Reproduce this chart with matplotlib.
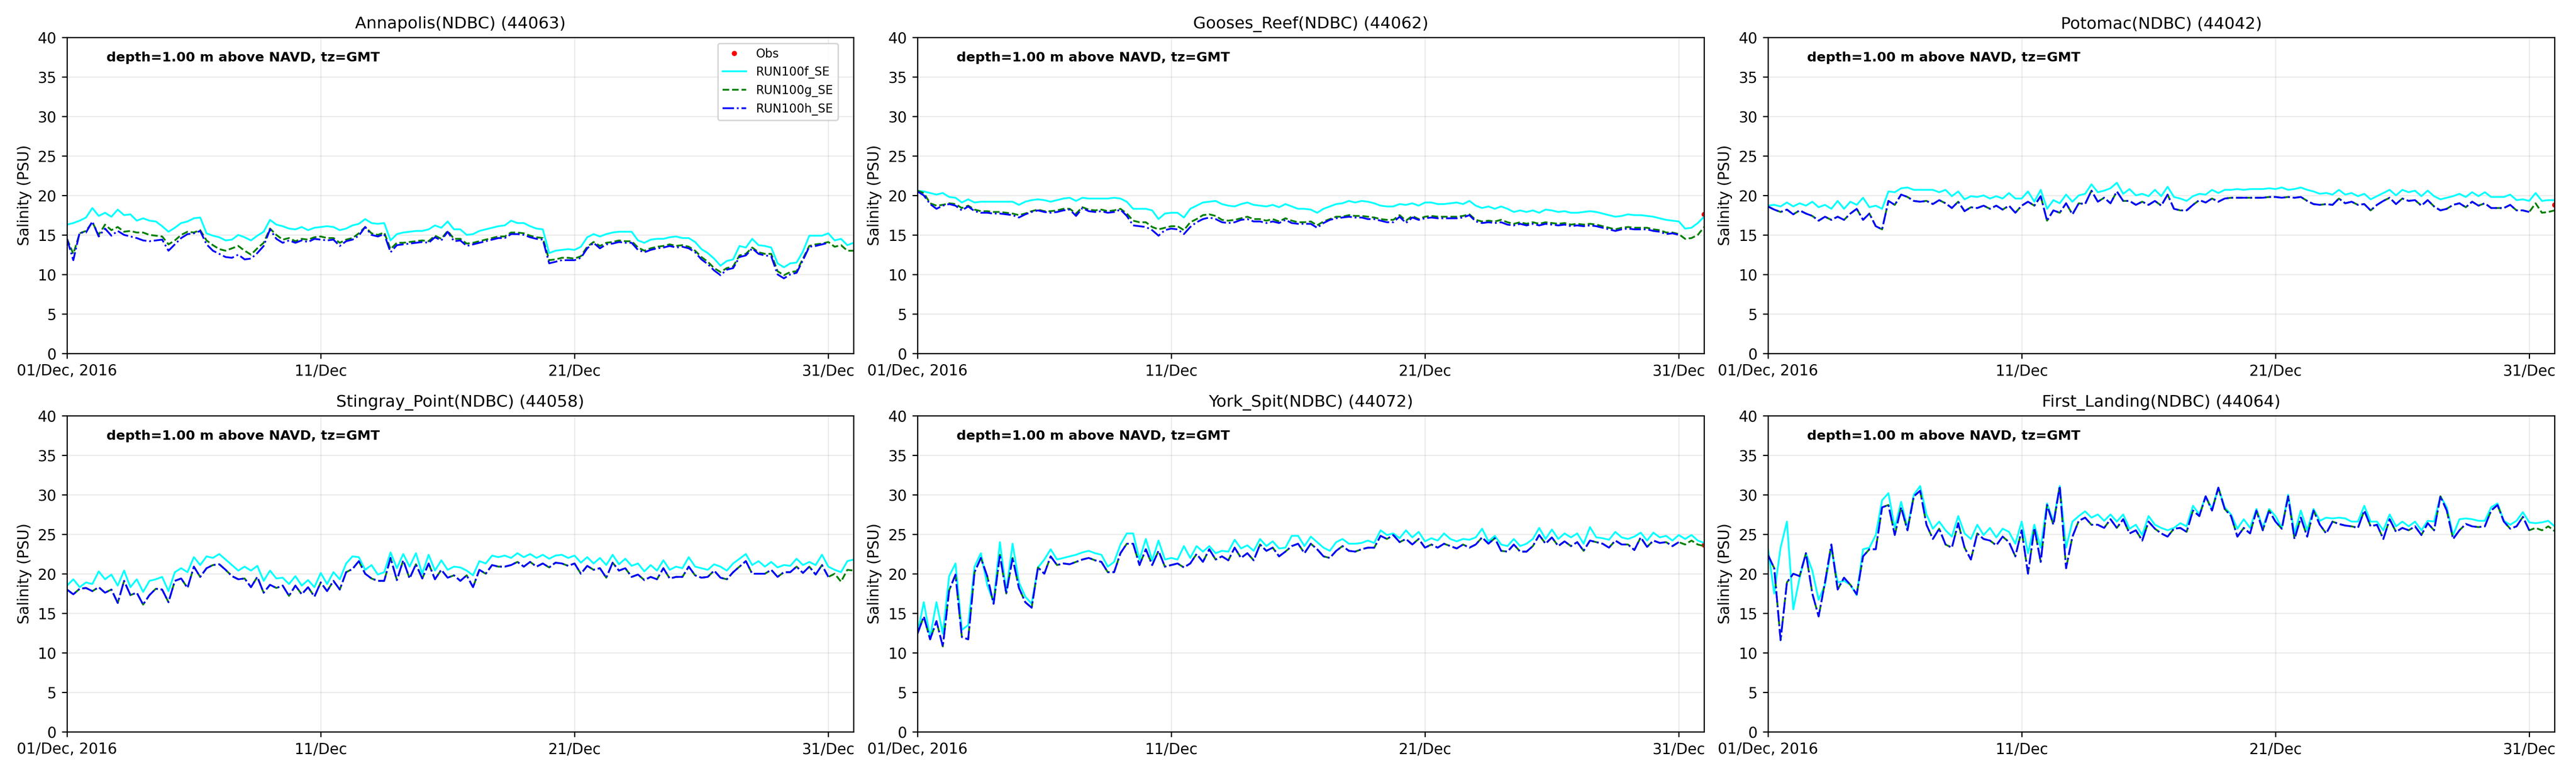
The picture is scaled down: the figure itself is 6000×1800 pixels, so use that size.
# Salinity time series at six NDBC stations, Dec 2016 (three model runs)
import numpy as np
import matplotlib.pyplot as plt
import matplotlib.dates as mdates

# 6-hourly sampling times
times = np.arange(np.datetime64("2016-12-01T00"), np.datetime64("2017-01-01T01"),
                  np.timedelta64(6, "h"))

titles = ["Annapolis(NDBC) (44063)", "Gooses_Reef(NDBC) (44062)",
          "Potomac(NDBC) (44042)", "Stingray_Point(NDBC) (44058)",
          "York_Spit(NDBC) (44072)", "First_Landing(NDBC) (44064)"]

tick_dates = ["2016-12-01", "2016-12-11", "2016-12-21", "2016-12-31"]
tick_labels = ["01/Dec, 2016", "11/Dec", "21/Dec", "31/Dec"]
run_labels = ["RUN100f_SE", "RUN100g_SE", "RUN100h_SE"]

# ---- Annapolis
annap_f = [16.3, 16.5, 16.8, 17.2, 18.4, 17.4, 17.8, 17.3,
           18.2, 17.5, 17.6, 16.8, 17.1, 16.8, 16.7, 16.1,
           15.4, 15.9, 16.5, 16.7, 17.1, 17.2, 15.2, 14.9,
           14.7, 14.3, 14.4, 15.0, 14.7, 14.3, 14.9, 15.4,
           16.9, 16.3, 16.1, 15.8, 15.7, 16.0, 15.6, 15.9,
           16.0, 16.1, 16.0, 15.6, 15.8, 16.2, 16.4, 17.0,
           16.5, 16.4, 16.5, 14.3, 15.1, 15.3, 15.4, 15.5,
           15.5, 15.7, 16.2, 15.9, 16.7, 15.7, 15.7, 15.0,
           15.1, 15.5, 15.7, 15.9, 16.1, 16.2, 16.8, 16.5,
           16.5, 16.1, 15.8, 15.7, 12.7, 13.0, 13.1, 13.2,
           13.1, 13.5, 14.7, 15.1, 14.8, 15.1, 15.3, 15.4,
           15.4, 15.4, 14.3, 14.0, 14.4, 14.5, 14.5, 14.7,
           14.8, 14.6, 14.6, 14.1, 13.2, 12.7, 12.0, 11.1,
           11.7, 11.9, 13.6, 13.4, 14.5, 13.7, 13.6, 13.4,
           11.4, 10.9, 11.4, 11.5, 12.9, 14.9, 14.9, 14.9,
           15.2, 14.3, 14.5, 13.7, 14.0]
annap_g = [14.5, 12.6, 15.2, 15.5, 16.6, 15.0, 16.3, 15.6,
           16.0, 15.4, 15.5, 15.3, 15.3, 15.0, 14.9, 14.8,
           13.8, 14.3, 15.0, 15.4, 15.3, 15.6, 14.3, 13.7,
           13.2, 13.0, 13.3, 13.6, 13.0, 12.5, 13.3, 14.0,
           15.8, 15.0, 14.4, 14.6, 14.2, 14.5, 14.4, 14.7,
           14.8, 14.6, 14.6, 14.0, 14.4, 14.6, 15.2, 16.0,
           15.2, 15.0, 15.3, 13.2, 14.0, 14.0, 14.1, 14.2,
           14.3, 14.2, 14.9, 14.5, 15.5, 14.5, 14.5, 13.9,
           14.0, 14.2, 14.4, 14.6, 14.8, 14.8, 15.3, 15.3,
           15.2, 14.9, 14.7, 14.6, 11.8, 11.9, 12.1, 12.1,
           12.0, 12.3, 13.5, 14.1, 13.6, 14.0, 14.1, 14.3,
           14.2, 14.2, 13.4, 13.0, 13.3, 13.5, 13.6, 13.8,
           13.6, 13.7, 13.5, 13.0, 12.2, 11.6, 10.8, 10.3,
           10.8, 11.0, 12.4, 12.6, 13.4, 12.8, 12.6, 12.6,
           10.4, 9.9, 10.3, 10.4, 12.0, 13.6, 13.8, 13.9,
           14.1, 13.5, 13.7, 13.0, 13.0]
annap_h = [14.5, 11.8, 15.3, 15.3, 16.7, 14.8, 15.8, 14.9,
           15.5, 15.0, 14.8, 14.6, 14.3, 14.2, 14.3, 14.4,
           13.0, 13.8, 14.6, 15.1, 15.2, 15.5, 13.8, 13.0,
           12.6, 12.2, 12.1, 12.5, 11.9, 12.0, 12.7, 13.6,
           15.7, 14.5, 14.0, 14.3, 14.0, 14.3, 14.1, 14.5,
           14.4, 14.3, 14.4, 13.6, 14.2, 14.4, 14.9, 16.0,
           15.0, 14.8, 15.1, 12.8, 13.7, 13.8, 13.9, 14.0,
           14.1, 14.0, 14.7, 14.3, 15.4, 14.2, 14.3, 13.6,
           13.8, 14.0, 14.2, 14.4, 14.6, 14.6, 15.1, 15.1,
           15.0, 14.7, 14.5, 14.4, 11.4, 11.6, 11.8, 11.8,
           11.8, 12.1, 13.3, 14.0, 13.3, 13.8, 13.9, 14.1,
           14.0, 14.0, 13.1, 12.8, 13.1, 13.3, 13.4, 13.6,
           13.4, 13.5, 13.3, 12.8, 11.9, 11.3, 10.5, 9.9,
           10.6, 10.8, 12.2, 12.4, 13.3, 12.6, 12.4, 12.3,
           10.0, 9.5, 10.0, 10.2, 11.8, 13.5, 13.6, 13.8,
           14.0]

# ---- Gooses Reef
goose_f = [20.6, 20.5, 20.3, 20.1, 20.3, 19.8, 19.7, 19.1,
           19.5, 19.1, 19.2, 19.2, 19.2, 19.2, 19.2, 19.2,
           18.8, 19.2, 19.4, 19.5, 19.4, 19.2, 19.4, 19.6,
           19.7, 19.3, 19.7, 19.6, 19.6, 19.6, 19.6, 19.7,
           19.6, 19.2, 18.3, 18.3, 18.3, 18.1, 17.0, 17.7,
           17.8, 17.8, 17.2, 18.3, 18.7, 19.1, 19.2, 19.3,
           18.9, 18.7, 18.6, 18.9, 19.1, 18.8, 18.7, 18.6,
           18.8, 18.5, 18.9, 18.6, 18.3, 18.3, 18.2, 17.8,
           18.3, 18.6, 18.9, 19.0, 19.3, 19.1, 19.3, 19.2,
           19.0, 18.7, 18.6, 18.6, 18.9, 18.8, 19.0, 18.7,
           19.1, 19.1, 18.9, 18.9, 19.0, 19.1, 18.9, 19.3,
           18.7, 18.4, 18.6, 18.3, 18.6, 18.3, 17.9, 18.1,
           17.9, 18.1, 17.8, 18.2, 18.1, 17.9, 18.0, 17.8,
           17.8, 17.9, 18.0, 17.9, 17.7, 17.5, 17.3, 17.4,
           17.6, 17.5, 17.5, 17.4, 17.3, 17.1, 16.9, 16.8,
           16.7, 15.8, 15.9, 16.5, 17.3]
goose_g = [20.6, 20.3, 19.0, 18.7, 18.8, 19.0, 18.9, 18.4,
           18.7, 18.2, 18.0, 18.0, 17.9, 17.9, 17.8, 17.7,
           17.5, 17.7, 18.0, 18.2, 18.0, 18.0, 18.1, 18.3,
           18.3, 17.7, 18.5, 18.2, 18.1, 18.2, 18.0, 18.1,
           18.3, 17.7, 16.8, 16.6, 16.6, 16.0, 15.7, 15.9,
           16.1, 16.1, 15.6, 16.6, 17.0, 17.5, 17.6, 17.4,
           16.9, 16.8, 16.9, 17.1, 17.3, 17.0, 17.0, 16.8,
           17.0, 16.7, 17.1, 16.8, 16.6, 16.6, 16.7, 16.2,
           16.7, 17.0, 17.3, 17.3, 17.5, 17.4, 17.4, 17.3,
           17.2, 17.0, 16.9, 16.9, 17.5, 16.8, 17.4, 17.0,
           17.3, 17.4, 17.3, 17.3, 17.3, 17.3, 17.4, 17.6,
           16.9, 16.7, 16.8, 16.7, 16.9, 16.6, 16.4, 16.6,
           16.4, 16.6, 16.4, 16.6, 16.5, 16.4, 16.5, 16.3,
           16.4, 16.3, 16.4, 16.3, 16.1, 15.9, 15.7, 15.9,
           16.0, 15.9, 15.9, 15.9, 15.7, 15.6, 15.3, 15.3,
           15.1, 14.5, 14.6, 15.0, 16.0]
goose_h = [20.5, 20.0, 18.9, 18.3, 18.7, 18.9, 18.7, 18.1,
           18.6, 18.0, 17.8, 17.8, 17.7, 17.7, 17.6, 17.5,
           17.2, 17.6, 17.9, 18.1, 17.9, 17.8, 17.9, 18.1,
           18.2, 17.4, 18.4, 18.0, 17.9, 18.0, 17.8, 17.9,
           18.2, 17.4, 16.2, 16.1, 16.0, 15.6, 14.9, 15.6,
           15.8, 15.7, 15.1, 16.0, 16.6, 17.0, 17.2, 17.0,
           16.6, 16.5, 16.6, 16.9, 17.0, 16.7, 16.7, 16.5,
           16.7, 16.5, 16.9, 16.5, 16.4, 16.4, 16.4, 15.9,
           16.5, 16.9, 17.1, 17.2, 17.3, 17.2, 17.2, 17.0,
           17.0, 16.8, 16.6, 16.6, 17.3, 16.5, 17.2, 16.9,
           17.1, 17.2, 17.1, 17.1, 17.1, 17.1, 17.2, 17.5,
           16.7, 16.5, 16.6, 16.5, 16.6, 16.3, 16.2, 16.4,
           16.2, 16.4, 16.2, 16.4, 16.3, 16.2, 16.3, 16.1,
           16.2, 16.1, 16.2, 16.1, 15.9, 15.7, 15.5, 15.7,
           15.8, 15.7, 15.7, 15.7, 15.5, 15.4, 15.1, 15.2,
           15.0]

# ---- Potomac
potom_f = [18.7, 18.8, 18.6, 19.1, 18.6, 19.0, 18.7, 19.2,
           18.5, 18.8, 18.3, 19.3, 18.3, 19.2, 18.8, 19.7,
           18.5, 18.7, 18.3, 20.5, 20.4, 20.9, 21.0, 20.7,
           20.7, 20.7, 20.7, 20.4, 20.7, 19.9, 20.5, 19.5,
           19.9, 19.8, 20.0, 19.6, 19.9, 19.6, 20.3, 19.6,
           19.6, 20.5, 19.2, 20.7, 18.3, 19.4, 19.0, 20.1,
           19.2, 20.0, 20.2, 21.4, 20.4, 20.6, 20.9, 21.6,
           20.2, 20.8, 20.0, 20.2, 19.9, 20.7, 19.9, 21.1,
           19.8, 19.6, 19.3, 19.9, 20.2, 20.1, 20.7, 20.3,
           20.7, 20.7, 20.8, 20.7, 20.8, 20.8, 20.8, 20.9,
           20.8, 21.0, 20.7, 20.8, 21.0, 20.7, 20.5, 20.2,
           20.3, 20.1, 20.7, 20.1, 20.3, 19.9, 20.2, 19.5,
           19.9, 20.3, 20.7, 20.0, 20.7, 20.4, 20.6, 19.9,
           20.6, 19.9, 19.5, 19.7, 19.9, 20.2, 19.8, 20.4,
           19.9, 20.4, 19.8, 19.8, 19.8, 20.1, 19.4, 19.5,
           19.3, 20.3, 19.3, 19.4, 19.4]
potom_g = [18.6, 18.2, 17.9, 18.2, 17.6, 18.1, 17.7, 17.4,
           16.8, 17.3, 16.9, 17.3, 16.9, 17.7, 18.3, 16.9,
           17.7, 16.1, 15.7, 19.3, 18.8, 20.1, 19.8, 19.3,
           19.2, 19.3, 18.9, 19.4, 19.0, 18.4, 19.2, 18.0,
           18.5, 18.4, 18.7, 18.3, 18.7, 18.2, 18.7, 17.8,
           18.7, 19.2, 18.7, 19.9, 16.8, 18.1, 17.8, 19.0,
           17.6, 19.0, 18.9, 20.6, 19.2, 19.7, 19.0, 20.5,
           19.3, 19.3, 18.8, 19.2, 18.8, 19.3, 18.7, 20.1,
           18.3, 18.1, 18.1, 18.8, 19.4, 19.1, 19.6, 19.2,
           19.6, 19.7, 19.7, 19.7, 19.7, 19.7, 19.7, 19.8,
           19.8, 19.7, 19.8, 19.7, 19.8, 19.3, 18.9, 18.8,
           18.9, 18.8, 19.6, 19.0, 19.2, 18.8, 18.9, 18.1,
           18.8, 19.3, 19.7, 18.9, 19.6, 19.3, 19.4, 18.7,
           19.4, 18.6, 18.1, 18.3, 18.8, 19.0, 18.5, 19.2,
           18.7, 19.0, 18.4, 18.4, 18.4, 18.8, 18.1, 18.1,
           17.9, 19.0, 17.8, 17.9, 18.1]
potom_h = potom_g[:121]  # lies on top of RUN100g, ends 31 Dec 00:00

# ---- Stingray Point
sting_f = [18.5, 19.3, 18.3, 18.9, 18.7, 20.3, 19.3, 19.9,
           18.5, 20.4, 18.3, 19.3, 17.7, 19.1, 19.3, 19.6,
           17.8, 20.2, 20.7, 20.2, 22.1, 21.1, 22.2, 22.0,
           22.5, 21.8, 21.1, 20.4, 20.9, 20.4, 21.0, 19.1,
           20.4, 19.4, 19.5, 18.7, 19.7, 18.5, 19.2, 18.3,
           20.1, 18.7, 20.2, 19.3, 21.3, 22.2, 22.1, 20.5,
           21.1, 19.9, 20.2, 22.7, 20.7, 22.5, 20.9, 22.6,
           20.0, 22.4, 20.4, 21.7, 20.5, 20.9, 20.8, 20.4,
           19.8, 21.6, 21.3, 22.3, 22.1, 22.3, 22.0, 22.6,
           22.1, 22.5, 22.0, 22.4, 21.9, 22.3, 22.4, 22.0,
           22.3, 21.4, 22.1, 21.3, 22.0, 21.1, 22.4, 21.2,
           21.9, 21.0, 21.3, 20.3, 21.1, 20.4, 21.7, 20.5,
           20.9, 20.7, 22.1, 20.9, 20.7, 20.5, 21.2, 20.9,
           20.4, 21.3, 21.9, 22.5, 21.1, 21.6, 20.9, 21.5,
           20.8, 21.1, 21.0, 21.9, 21.1, 21.5, 21.1, 22.4,
           20.9, 20.5, 20.2, 21.6, 21.8]
sting_g = [18.0, 17.4, 18.1, 18.2, 17.8, 18.3, 17.6, 18.0,
           16.3, 19.1, 17.3, 17.6, 16.1, 17.3, 18.1, 18.0,
           16.4, 19.1, 19.4, 18.2, 20.9, 19.6, 20.7, 21.1,
           21.2, 20.5, 19.7, 19.3, 19.4, 18.3, 19.6, 17.6,
           18.6, 18.2, 18.5, 17.2, 18.5, 17.4, 18.3, 17.1,
           18.9, 17.8, 19.1, 18.0, 20.2, 20.6, 21.6, 20.0,
           19.4, 19.1, 19.1, 22.0, 19.2, 21.7, 19.4, 21.2,
           19.4, 21.3, 19.3, 20.5, 19.5, 19.8, 19.1, 19.8,
           18.3, 20.5, 20.0, 21.1, 20.9, 20.9, 21.1, 21.5,
           20.9, 21.5, 20.9, 21.3, 20.8, 21.4, 21.3, 21.0,
           21.3, 20.0, 21.0, 20.5, 20.7, 19.5, 21.4, 20.4,
           20.7, 19.6, 19.9, 19.2, 19.6, 19.3, 20.7, 19.4,
           19.6, 19.6, 20.9, 19.8, 19.5, 19.6, 20.4, 19.5,
           19.3, 20.2, 20.9, 21.6, 20.0, 20.0, 20.0, 20.5,
           19.6, 20.2, 20.2, 20.9, 20.1, 20.9, 19.9, 21.1,
           19.6, 20.0, 19.0, 20.5, 20.4]
sting_h = sting_g[:121]

# ---- York Spit
york_f = [12.4, 16.4, 12.0, 16.4, 12.4, 19.7, 21.3, 12.9,
          13.5, 20.9, 22.6, 18.6, 16.4, 24.0, 17.7, 23.8,
          18.9, 17.1, 16.2, 20.8, 21.8, 23.1, 21.8, 22.0,
          22.2, 22.4, 22.7, 22.9, 22.6, 22.4, 20.9, 21.5,
          23.7, 25.1, 25.1, 21.8, 24.4, 21.7, 24.2, 21.8,
          22.0, 21.8, 23.5, 22.0, 23.5, 22.8, 23.5, 22.6,
          22.9, 22.8, 24.3, 23.2, 23.6, 22.9, 24.4, 23.5,
          24.1, 23.2, 23.3, 24.8, 24.8, 23.5, 24.7, 24.0,
          23.3, 22.9, 24.0, 24.4, 23.8, 23.8, 23.9, 24.2,
          23.9, 25.5, 24.9, 25.1, 24.5, 25.5, 24.6, 25.3,
          24.1, 24.5, 24.2, 25.1, 24.4, 24.1, 24.4, 24.3,
          24.6, 25.7, 24.1, 24.8, 23.7, 23.5, 24.4, 23.5,
          23.8, 24.4, 25.8, 24.4, 25.6, 24.4, 25.1, 24.6,
          25.1, 23.8, 25.9, 24.6, 24.5, 24.3, 25.3, 24.6,
          24.4, 24.7, 25.2, 24.2, 25.2, 24.6, 24.8, 24.2,
          24.9, 24.4, 24.9, 24.2, 23.9]
york_g = [12.4, 14.6, 11.7, 14.0, 10.8, 17.9, 19.9, 12.0,
          11.7, 20.2, 22.0, 19.7, 16.2, 22.4, 17.5, 22.0,
          18.2, 16.4, 15.7, 20.8, 20.0, 22.2, 21.1, 21.3,
          21.2, 21.5, 21.8, 22.0, 21.7, 21.5, 20.2, 20.2,
          22.6, 23.8, 23.8, 21.1, 23.1, 21.1, 22.9, 20.9,
          21.1, 21.3, 20.8, 21.3, 22.5, 21.5, 23.1, 21.8,
          22.2, 21.7, 23.3, 22.0, 22.6, 21.7, 23.7, 22.9,
          23.3, 22.2, 22.8, 23.5, 23.8, 22.6, 23.8, 23.1,
          22.2, 22.0, 22.9, 23.5, 22.9, 22.8, 23.1, 23.3,
          23.3, 24.8, 24.4, 24.9, 24.0, 24.4, 23.7, 24.4,
          23.3, 23.7, 23.3, 23.8, 23.5, 23.2, 23.7, 23.3,
          23.7, 24.6, 23.8, 24.5, 22.9, 22.8, 23.7, 22.8,
          22.8, 23.5, 24.9, 23.8, 24.6, 23.5, 24.1, 23.5,
          24.0, 22.9, 24.2, 24.0, 23.8, 23.3, 24.2, 23.7,
          23.7, 23.0, 24.6, 23.4, 24.2, 23.9, 24.0, 23.5,
          24.0, 23.7, 24.2, 23.7, 23.5]
york_h = york_g[:121]

# ---- First Landing
first_f = [23.3, 17.5, 23.3, 26.6, 15.5, 19.5, 22.6, 20.4,
           16.7, 18.6, 23.3, 18.9, 19.1, 18.6, 17.3, 23.1,
           23.3, 24.9, 29.3, 30.2, 25.8, 29.1, 25.8, 30.0,
           31.1, 27.5, 25.7, 26.6, 25.5, 24.7, 27.3, 25.1,
           24.4, 26.2, 24.9, 25.8, 24.6, 25.7, 25.3, 23.8,
           26.6, 22.6, 26.2, 23.3, 28.9, 26.6, 31.1, 23.3,
           26.6, 27.3, 27.9, 27.1, 27.5, 26.7, 27.5, 26.6,
           27.5, 25.7, 26.2, 24.9, 27.3, 26.2, 25.8, 25.5,
           25.8, 26.4, 26.0, 28.6, 27.5, 29.8, 28.2, 30.9,
           28.4, 27.5, 25.7, 26.9, 25.8, 28.2, 25.8, 28.2,
           27.3, 25.8, 30.0, 25.1, 28.0, 25.5, 28.2, 26.7,
           27.1, 27.0, 27.1, 27.0, 26.6, 26.6, 28.6, 26.6,
           26.6, 25.5, 27.5, 26.0, 26.6, 26.0, 26.6, 25.5,
           26.7, 26.6, 29.8, 28.4, 24.9, 26.9, 27.0, 26.9,
           26.7, 26.7, 28.4, 28.9, 26.7, 26.2, 26.7, 27.8,
           26.5, 26.4, 26.5, 26.7, 26.0]
first_g = [22.4, 20.7, 11.6, 18.9, 20.0, 19.7, 22.6, 17.5,
           14.6, 18.9, 23.7, 18.0, 19.5, 18.6, 17.4, 22.2,
           23.1, 23.1, 28.4, 28.7, 24.9, 28.4, 25.5, 29.8,
           30.5, 26.2, 24.4, 25.7, 23.7, 23.3, 26.4, 23.3,
           21.8, 25.1, 24.4, 24.2, 23.6, 24.7, 24.0, 22.2,
           25.5, 20.0, 25.8, 21.5, 28.7, 26.2, 31.1, 20.7,
           24.7, 26.7, 27.1, 26.2, 26.2, 25.8, 26.9, 25.8,
           26.9, 25.1, 25.5, 24.2, 26.6, 25.7, 25.1, 24.7,
           25.7, 25.8, 25.3, 28.0, 27.3, 29.8, 28.0, 30.9,
           28.2, 27.3, 24.7, 25.8, 25.1, 28.0, 25.5, 28.0,
           26.6, 25.7, 29.8, 24.4, 27.1, 24.7, 28.0, 26.2,
           25.1, 26.6, 26.3, 26.1, 26.0, 25.8, 28.0, 26.0,
           26.2, 24.4, 26.9, 25.3, 25.8, 25.5, 26.0, 24.9,
           26.4, 25.5, 29.8, 28.0, 24.4, 25.5, 26.3, 26.0,
           25.9, 26.0, 28.0, 28.7, 26.6, 25.7, 26.0, 27.2,
           25.5, 25.8, 25.5, 26.0, 25.4]
first_h = first_g[:121]

# observations: only the first one (1 Jan 00:00) falls on the window edge
obs_time = [np.datetime64("2017-01-01T00")]
obs_vals = [[], [17.6], [18.8], [], [23.65], []]

runs_f = [annap_f, goose_f, potom_f, sting_f, york_f, first_f]
runs_g = [annap_g, goose_g, potom_g, sting_g, york_g, first_g]
runs_h = [annap_h, goose_h, potom_h, sting_h, york_h, first_h]

fig, axes = plt.subplots(2, 3, figsize=(24, 7.2))
fig.subplots_adjust(left=0.026, right=0.9917, top=0.9517, bottom=0.0533,
                    wspace=0.081, hspace=0.197)

for i, ax in enumerate(axes.flat):
    ov = obs_vals[i]
    ax.plot(obs_time[:len(ov)], ov, "o", color="red", ms=3.5, mec="none",
            label="Obs")
    ax.plot(times[:len(runs_f[i])], runs_f[i], "-", color="cyan", lw=1.2,
            label=run_labels[0])
    ax.plot(times[:len(runs_g[i])], runs_g[i], "--", color="green", lw=1.2,
            label=run_labels[1])
    ax.plot(times[:len(runs_h[i])], runs_h[i], "-.", color="blue", lw=1.2,
            label=run_labels[2])

    ax.set_xlim(np.datetime64("2016-12-01T00"), np.datetime64("2017-01-01T00"))
    ax.set_ylim(0, 40)
    ax.set_yticks(range(0, 41, 5))
    ax.set_xticks([mdates.date2num(np.datetime64(d)) for d in tick_dates])
    ax.set_xticklabels(tick_labels)
    ax.grid(True, alpha=0.25)
    ax.set_title(titles[i], fontsize=11)
    ax.set_ylabel("Salinity (PSU)")
    ax.text(0.05, 0.935, "depth=1.00 m above NAVD, tz=GMT",
            transform=ax.transAxes, fontsize=9, fontweight="bold", va="center")

axes[0, 0].legend(loc="upper right", bbox_to_anchor=(0.9875, 1.0), fontsize=8)

fig.savefig("out.png", dpi=250)
